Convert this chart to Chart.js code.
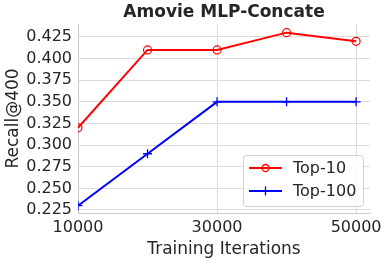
<!DOCTYPE html>
<html lang="en">
<head>
  <meta charset="UTF-8">
  <title>Amovie MLP-Concate</title>
  <script src="https://cdn.jsdelivr.net/npm/chart.js@4.4.0/dist/chart.umd.min.js"></script>
  <style>
    html, body { margin: 0; padding: 0; background: #fff; }
    .chart-box { width: 388px; height: 263px; }
  </style>
</head>
<body>
  <div class="chart-box">
    <canvas id="recall-chart" width="388" height="263"></canvas>
  </div>

  <script>
    // values
    const iterations = [10000, 20000, 30000, 40000, 50000];
    const top10 = [0.32, 0.41, 0.41, 0.43, 0.42];
    const top100 = [0.23, 0.29, 0.35, 0.35, 0.35];
    const xTicks = [10000, 30000, 50000];
    const yTicks = [0.225, 0.25, 0.275, 0.3, 0.325, 0.35, 0.375, 0.4, 0.425];

    const textColor = '#262626';
    const gridColor = '#dcdcdc';
    const font = 'DejaVu Sans';

    function toPoints(ys) {
      return iterations.map((x, i) => ({ x: x, y: ys[i] }));
    }

    // center the title over the plot area, like matplotlib does
    const centerTitle = {
      id: 'centerTitle',
      afterLayout(chart) {
        const tb = chart.titleBlock;
        if (!tb) return;
        tb.left = chart.chartArea.left;
        tb.right = chart.chartArea.right;
        tb.width = tb.right - tb.left;
      }
    };

    // legend drawn inside plot, matplotlib style (line + marker)
    const innerLegend = {
      id: 'innerLegend',
      afterDraw(chart) {
        const ctx = chart.ctx;
        const area = chart.chartArea;
        const boxW = 120, boxH = 51;
        const bx = area.right - 7 - boxW;
        const by = area.bottom - 7 - boxH;
        ctx.save();
        ctx.beginPath();
        ctx.roundRect(bx + 0.5, by + 0.5, boxW, boxH, 3);
        ctx.fillStyle = 'rgba(255,255,255,0.85)';
        ctx.fill();
        ctx.strokeStyle = '#d0d0d0';
        ctx.lineWidth = 1;
        ctx.stroke();

        chart.data.datasets.forEach((ds, i) => {
          const cy = by + 13 + i * 23;
          const x0 = bx + 6, x1 = bx + 39, mx = (x0 + x1) / 2;
          ctx.strokeStyle = ds.borderColor;
          ctx.lineWidth = 2;
          ctx.beginPath();
          ctx.moveTo(x0, cy);
          ctx.lineTo(x1, cy);
          ctx.stroke();
          ctx.lineWidth = 1.3;
          ctx.beginPath();
          if (ds.pointStyle === 'circle') {
            ctx.arc(mx, cy, 3.5, 0, Math.PI * 2);
          } else {
            ctx.moveTo(mx - 4.5, cy); ctx.lineTo(mx + 4.5, cy);
            ctx.moveTo(mx, cy - 4.5); ctx.lineTo(mx, cy + 4.5);
          }
          ctx.stroke();
          ctx.fillStyle = textColor;
          ctx.font = '16px "' + font + '"';
          ctx.textBaseline = 'middle';
          ctx.textAlign = 'left';
          ctx.fillText(ds.label, bx + 50, cy + 1);
        });
        ctx.restore();
      }
    };

    const ctx = document.getElementById('recall-chart').getContext('2d');
    new Chart(ctx, {
      type: 'line',
      data: {
        datasets: [
          {
            label: 'Top-10',
            data: toPoints(top10),
            borderColor: 'rgb(255, 0, 0)',
            backgroundColor: 'rgba(0,0,0,0)',
            borderWidth: 2,
            pointStyle: 'circle',
            pointRadius: 4,
            pointBorderWidth: 1.2,
            pointBackgroundColor: 'rgba(0,0,0,0)',
            pointBorderColor: 'rgb(255, 0, 0)',
            tension: 0
          },
          {
            label: 'Top-100',
            data: toPoints(top100),
            borderColor: 'rgb(0, 0, 255)',
            backgroundColor: 'rgba(0,0,0,0)',
            borderWidth: 2,
            pointStyle: 'cross',
            pointRadius: 4.5,
            pointBorderWidth: 1.3,
            pointBorderColor: 'rgb(0, 0, 255)',
            tension: 0
          }
        ]
      },
      options: {
        responsive: false,
        animation: false,
        layout: { padding: { left: 0, right: 18, top: 0, bottom: 0 } },
        plugins: {
          legend: { display: false },
          tooltip: { enabled: false },
          title: {
            display: true,
            text: 'Amovie MLP-Concate',
            color: textColor,
            font: { family: font, size: 17, weight: 'bold' },
            padding: { top: 2, bottom: 1.6 }
          }
        },
        scales: {
          x: {
            type: 'linear',
            min: 10000,
            max: 52000,
            afterBuildTicks: (scale) => { scale.ticks = xTicks.map(v => ({ value: v })); },
            afterFit: (scale) => { scale.height = 50; },
            grid: { color: gridColor, drawTicks: false },
            border: { color: '#cccccc' },
            ticks: {
              color: textColor,
              font: { family: font, size: 16 },
              padding: 5,
              maxRotation: 0,
              callback: (v) => String(v)
            },
            title: {
              display: true,
              text: 'Training Iterations',
              color: textColor,
              font: { family: font, size: 17 },
              padding: 3
            }
          },
          y: {
            min: 0.2215,
            max: 0.44,
            afterBuildTicks: (scale) => { scale.ticks = yTicks.map(v => ({ value: v })); },
            afterFit: (scale) => { scale.width = 78; },
            grid: { color: gridColor, drawTicks: false },
            border: { color: '#cccccc' },
            ticks: {
              color: textColor,
              font: { family: font, size: 16 },
              padding: 6,
              callback: (v) => v.toFixed(3)
            },
            title: {
              display: true,
              text: 'Recall@400',
              color: textColor,
              font: { family: font, size: 17 },
              padding: 3
            }
          }
        }
      },
      plugins: [centerTitle, innerLegend]
    });
  </script>
</body>
</html>
